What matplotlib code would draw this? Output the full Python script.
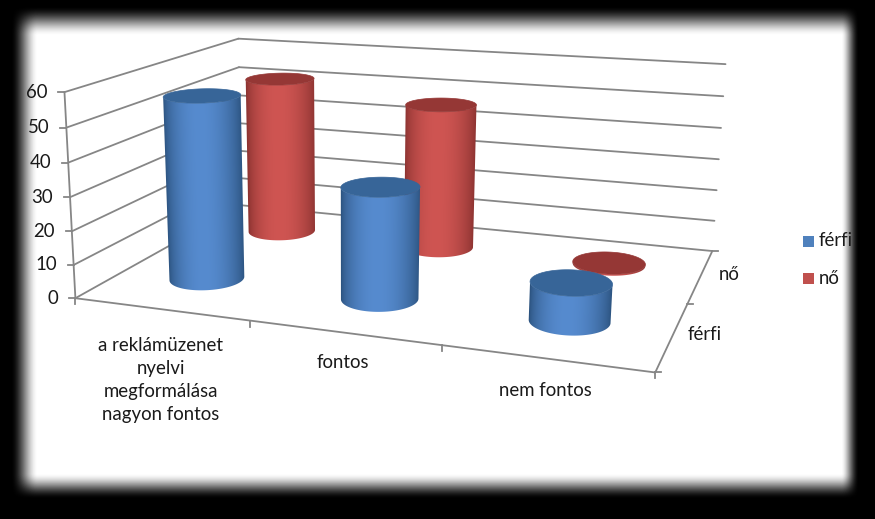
import matplotlib
matplotlib.use('Agg')
import matplotlib.pyplot as plt
from matplotlib.colors import to_rgb
from matplotlib.patches import Polygon, Rectangle
import numpy as np

plt.rcParams['font.family'] = ['Lato', 'DejaVu Sans']

categories = ['a reklámüzenet\nnyelvi\nmegformálása\nnagyon fontos', 'fontos', 'nem fontos']
series_names = ['férfi', 'nő']
ferfi = [55.5, 33, 11]
no = [51.5, 46.5, 0.5]
value_ticks = [0, 10, 20, 30, 40, 50, 60]

W, H = 875, 519
GRID = '#868686'
TEXT = '#1a1a1a'
FS = 13.4

# szinek: oldal sotet, oldal vilagos, teteje, jelmagyarazat
colors = {
    'férfi': ('#2b527e', '#568bcf', '#376598', '#4f81bd'),
    'nő': ('#8a3230', '#cf5552', '#953735', '#c0504d'),
}

# 3D doboz sarkai -> kep pontok, ebbol illesztjuk a perspektivat
corners = [
    ((0, 0, 0), (77, 297)),
    ((3, 0, 0), (655, 374)),
    ((3, 2, 0), (713, 249)),
    ((0, 2, 0), (240, 207)),
    ((0, 0, 60), (63, 92)),
    ((0, 2, 60), (240, 38)),
    ((3, 2, 60), (725, 65)),
]
rows = []
rhs = []
for (a, b, c), (x, y) in corners:
    rows.append([a, b, c, 1, 0, 0, 0, 0, -x * a, -x * b, -x * c])
    rows.append([0, 0, 0, 0, a, b, c, 1, -y * a, -y * b, -y * c])
    rhs += [x, y]
sol = np.linalg.lstsq(np.array(rows, float), np.array(rhs, float), rcond=None)[0]
P = np.append(sol, 1).reshape(3, 4)


def proj(u, v, w):
    u, v, w = np.broadcast_arrays(u, v, w)
    pts = np.stack([u, v, w, np.ones_like(u)], dtype=float)
    x, y, z = P @ pts
    return x / z, y / z


def line3d(ax, a, b, **kw):
    xa, ya = proj(*a)
    xb, yb = proj(*b)
    ax.plot([xa, xb], [ya, yb], color=GRID, solid_capstyle='round', **kw)


def cylinder(ax, u, v, value, name, radius=0.2):
    dark, light, top, _ = colors[name]
    dark, light = np.array(to_rgb(dark)), np.array(to_rgb(light))
    th = np.linspace(0, 2 * np.pi, 241)
    uu = u + radius * np.cos(th)
    vv = v + radius * 1.05 * np.sin(th)
    xb, yb = proj(uu, vv, 0)
    xt, yt = proj(uu, vv, value)
    # latszo ives resz: a bal es jobb szel kozott, az elol levo iven
    lo, hi = np.argmin(xb[:-1]), np.argmax(xb[:-1])
    idx = np.arange(len(th) - 1)
    if lo < hi:
        back = idx[lo:hi + 1]
        front = np.r_[idx[hi:], idx[:lo + 1]]
    else:
        front = idx[hi:lo + 1]
        back = np.r_[idx[lo:], idx[:hi + 1]]
    arc = front if yb[front].mean() > yb[back].mean() else back
    outline = np.r_[np.c_[xb[arc], yb[arc]], np.c_[xt[arc], yt[arc]][::-1]]

    # oldal szinatmenete, a henger korvonalara vagva
    gx = np.linspace(outline[:, 0].min() - 2, outline[:, 0].max() + 2, 160)
    gy = np.linspace(outline[:, 1].min() - 2, outline[:, 1].max() + 2, 60)
    GX, GY = np.meshgrid(gx, gy)
    s = np.clip((GY - yt[lo]) / (yb[lo] - yt[lo]), 0, 1)
    left = xt[lo] + (xb[lo] - xt[lo]) * s
    right = xt[hi] + (xb[hi] - xt[hi]) * s
    t = np.clip((GX - left) / (right - left), 0, 1)
    shade = np.sin(np.pi * t ** 0.9) ** 0.7
    img = dark + (light - dark) * shade[..., None]
    im = ax.imshow(img, extent=(gx[0], gx[-1], gy[0], gy[-1]), origin='lower', aspect='auto',
                   interpolation='bilinear', zorder=3)
    clip = Polygon(outline, closed=True, transform=ax.transData)
    im.set_clip_path(clip)
    ax.add_patch(Polygon(np.c_[xt, yt], closed=True, facecolor=top, edgecolor=top, lw=0.5, zorder=3))


fig = plt.figure(figsize=(W / 100, H / 100), dpi=100)
ax = fig.add_axes([0, 0, 1, 1])
ax.axis('off')

# fekete elmosott keret
xs = np.arange(W) + 0.5
ys = np.arange(H) + 0.5


def ramp(d, a, b):
    t = np.clip((d - a) / (b - a), 0, 1)
    return t * t * (3 - 2 * t)


gx = ramp(xs, 11, 38) * ramp(W - xs, 16, 34)
gy = ramp(ys, 6, 36) * ramp(H - ys, 20, 46)
ax.imshow(np.outer(gy, gx), cmap='gray', vmin=0, vmax=1, extent=(0, W, H, 0),
          aspect='auto', interpolation='bilinear', zorder=0)

# racsvonalak a hatso es az oldalso falon
for val in value_ticks:
    line3d(ax, (0, 0, val), (0, 2, val), lw=1.3, zorder=1)
    line3d(ax, (0, 2, val), (3, 2, val), lw=1.3, zorder=1)
    x0, y0 = proj(0, 0, val)
    ax.plot([x0 - 6, x0], [y0, y0], color=GRID, lw=1.3, zorder=1)
    ax.text(x0 - 17, y0, str(val), ha='right', va='center', fontsize=FS, color=TEXT, zorder=5)

# tengelyek
line3d(ax, (0, 0, 0), (0, 0, 60), lw=1.3, zorder=1)
line3d(ax, (0, 0, 0), (3, 0, 0), lw=1.3, zorder=1)
line3d(ax, (3, 0, 0), (3, 2, 0), lw=1.3, zorder=1)
for i in range(len(categories) + 1):
    x0, y0 = proj(i, 0, 0)
    ax.plot([x0, x0], [y0, y0 + 6], color=GRID, lw=1.3, zorder=1)
for j in range(len(series_names) + 1):
    x0, y0 = proj(3, j, 0)
    ax.plot([x0, x0 + 6], [y0, y0], color=GRID, lw=1.3, zorder=1)

# hengerek hatulrol elore
for i in range(len(categories)):
    cylinder(ax, i + 0.49, 1.54, no[i], 'nő')
    cylinder(ax, i + 0.49, 0.54, ferfi[i], 'férfi')

# feliratok
cat_pos = [(161, 380), (343, 362), (545, 391)]
for label, (x, y) in zip(categories, cat_pos):
    ax.text(x, y, label, ha='center', va='center', fontsize=FS, color=TEXT,
            linespacing=1.45, zorder=5)
for label, (x, y) in zip(series_names, [(705, 335), (729, 275)]):
    ax.text(x, y, label, ha='center', va='center', fontsize=FS, color=TEXT, zorder=5)

# jelmagyarazat
for name, y in zip(series_names, [241, 278]):
    ax.add_patch(Rectangle((803, y - 5.5), 11, 11, facecolor=colors[name][3], edgecolor='none', zorder=5))
    ax.text(819, y, name, ha='left', va='center', fontsize=FS, color=TEXT, zorder=5)

ax.set_xlim(0, W)
ax.set_ylim(H, 0)
fig.savefig('out.png', dpi=100)
